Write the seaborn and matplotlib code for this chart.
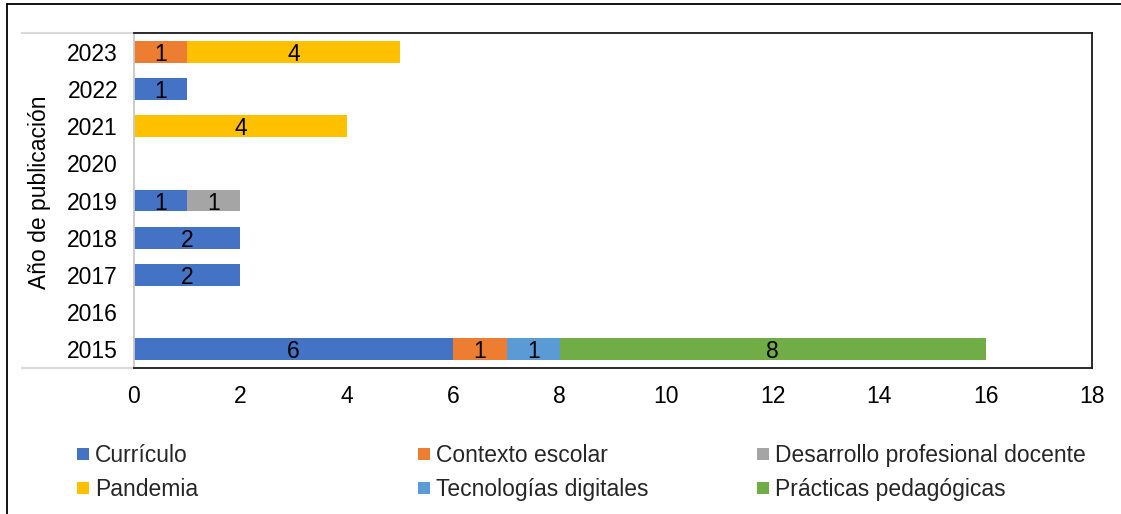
import numpy as np
import pandas as pd
import matplotlib
matplotlib.use("Agg")
import matplotlib.pyplot as plt
from matplotlib.lines import Line2D
import seaborn as sns

# Publications per year, split by topic
years = ["2015", "2016", "2017", "2018", "2019", "2020", "2021", "2022", "2023"]
curriculo = [6, 0, 2, 2, 1, 0, 0, 1, 0]
contexto_escolar = [1, 0, 0, 0, 0, 0, 0, 0, 1]
desarrollo_docente = [0, 0, 0, 0, 1, 0, 0, 0, 0]
pandemia = [0, 0, 0, 0, 0, 0, 4, 0, 4]
tecnologias = [1, 0, 0, 0, 0, 0, 0, 0, 0]
practicas = [8, 0, 0, 0, 0, 0, 0, 0, 0]

series_names = ["Currículo", "Contexto escolar", "Desarrollo profesional docente",
                "Pandemia", "Tecnologías digitales", "Prácticas pedagógicas"]
series_values = [curriculo, contexto_escolar, desarrollo_docente,
                 pandemia, tecnologias, practicas]
series_colors = ["#4472C4", "#ED7D31", "#A5A5A5", "#FFC000", "#5B9BD5", "#70AD47"]

x_ticks = [0, 2, 4, 6, 8, 10, 12, 14, 16, 18]

sns.set_theme(style="white")
plt.rcParams["font.family"] = ["Liberation Sans", "DejaVu Sans"]
FS = 16.5

W, H = 1121, 514
fig = plt.figure(figsize=(W / 100, H / 100), dpi=100)
ax = fig.add_axes([134 / W, 1 - 368 / H, (1092 - 134) / W, (368 - 33) / H])

order = years[::-1]  # newest year on top
df = pd.DataFrame({"year": years})
for name, vals in zip(series_names, series_values):
    df[name] = vals
df = df.set_index("year").loc[order].reset_index()

left = np.zeros(len(order))
for name, color in zip(series_names, series_colors):
    vals = df[name].to_numpy(dtype=float)
    sns.barplot(data=df, x=name, y="year", order=order, orient="h",
                color=color, saturation=1, errorbar=None, width=0.59,
                left=left, linewidth=0, ax=ax)
    texts = ax.bar_label(ax.containers[-1],
                         labels=[f"{int(v)}" if v > 0 else "" for v in vals],
                         label_type="center", fontsize=FS, color="black")
    for t in texts:
        t.set_verticalalignment("center_baseline")
    left = left + vals

ax.set_xlim(0, 18)
ax.set_ylim(len(order) - 0.5, -0.5)
ax.set_xticks(x_ticks)
ax.set_xticklabels([str(t) for t in x_ticks])
ax.set_xlabel("")
ax.set_ylabel("Año de publicación", fontsize=FS, color="black")
ax.yaxis.set_label_coords(-0.087, 0.524)
ax.tick_params(axis="x", length=0, pad=12, labelsize=FS, labelcolor="black")
ax.tick_params(axis="y", length=0, pad=11.5, labelsize=FS, labelcolor="black")

for side in ["top", "right", "bottom"]:
    ax.spines[side].set_color("#1a1a1a")
    ax.spines[side].set_linewidth(1.3)
ax.spines["left"].set_color("#C8C8C8")
ax.spines["left"].set_linewidth(1.3)

# light rules extending the category axis to the left
for yy in (0, 1):
    ax.plot([-0.118, 0], [yy, yy], transform=ax.transAxes, color="#D9D9D9",
            lw=1.5, clip_on=False, solid_capstyle="butt")

# chart frame (left and top edges)
fig.add_artist(Line2D([7 / W, 7 / W], [0, 1 - 3.5 / H], color="black", lw=1.3,
                      transform=fig.transFigure))
fig.add_artist(Line2D([7 / W, 1], [1 - 3.5 / H, 1 - 3.5 / H], color="black", lw=1.3,
                      transform=fig.transFigure))

# legend: three columns of two rows
handles = [Line2D([], [], marker="s", linestyle="", markersize=8.6,
                  color=c, markeredgewidth=0) for c in series_colors]
col_x = [77, 418, 757]
for i, cx in enumerate(col_x):
    idx = [i, i + 3]
    fig.legend([handles[j] for j in idx], [series_names[j] for j in idx],
               loc="upper left", bbox_to_anchor=(cx / W, 1 - 444 / H),
               frameon=False, fontsize=FS, handlelength=0.55, handletextpad=0.25,
               labelspacing=0.5, borderpad=0, borderaxespad=0)

fig.savefig("out.png", dpi=100)
